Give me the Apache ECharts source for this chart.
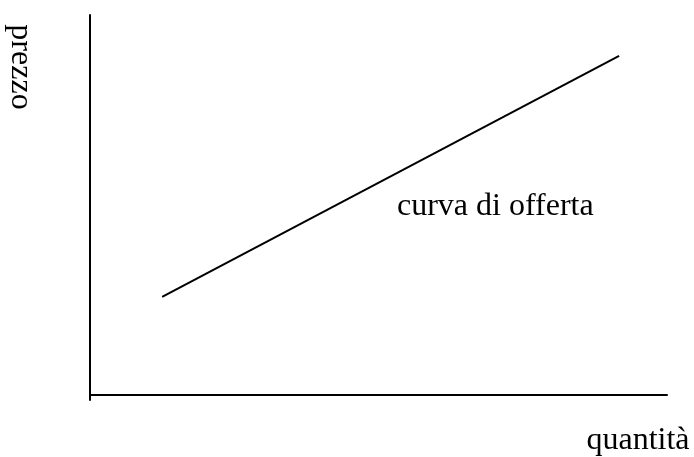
<!DOCTYPE html>
<html>
<head>
<meta charset="utf-8">
<style>
  html, body { margin: 0; padding: 0; background: #fff; }
  #chart { width: 694px; height: 457px; }
</style>
<script src="https://cdn.jsdelivr.net/npm/echarts@6/dist/echarts.min.js"></script>
</head>
<body>
<div id="chart"></div>
<script>
// Supply curve: quantity (x) against price (y), in arbitrary units 0-100
const quantities = [12.5, 91.7];
const prices = [26.8, 89.4];
const axisTitles = { x: 'quantità', y: 'prezzo' };
const curveLabel = 'curva di offerta';

const serif = '"Liberation Serif", "Times New Roman", serif';
const chart = echarts.init(document.getElementById('chart'));

chart.setOption({
  animation: false,
  grid: { left: 90, top: 15, right: 27, bottom: 57 },
  xAxis: {
    type: 'value', min: 0, max: 100, offset: -5,
    axisLine: { show: true, lineStyle: { color: '#000', width: 2 } },
    axisTick: { show: false }, axisLabel: { show: false }, splitLine: { show: false }
  },
  yAxis: {
    type: 'value', min: 0, max: 100,
    axisLine: { show: true, lineStyle: { color: '#000', width: 2 } },
    axisTick: { show: false }, axisLabel: { show: false }, splitLine: { show: false }
  },
  series: [{
    type: 'line',
    data: quantities.map((q, i) => [q, prices[i]]),
    symbol: 'none',
    lineStyle: { color: '#000', width: 2 }
  }],
  graphic: [
    {
      type: 'text', x: 20, y: 67, rotation: -Math.PI / 2,
      style: { text: axisTitles.y, font: '32px ' + serif, fill: '#000', textAlign: 'center', textVerticalAlign: 'middle' }
    },
    {
      type: 'text', x: 638, y: 441,
      style: { text: axisTitles.x, font: '32px ' + serif, fill: '#000', textAlign: 'center', textVerticalAlign: 'middle' }
    },
    {
      type: 'text', x: 397, y: 207,
      style: { text: curveLabel, font: '32px ' + serif, fill: '#000', textAlign: 'left', textVerticalAlign: 'middle' }
    }
  ]
});
</script>
</body>
</html>
